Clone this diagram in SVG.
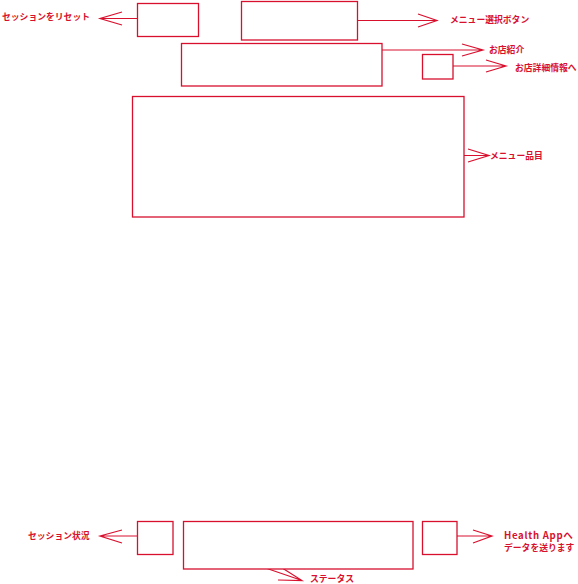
<svg xmlns="http://www.w3.org/2000/svg" width="578" height="584" viewBox="0 0 578 584">
<style>
.box{fill:#fff;stroke:#d8102e;stroke-width:1.3}
.ln{fill:none;stroke:#d8102e;stroke-width:1.2}
.lb{font-family:"Noto Sans CJK JP","Liberation Sans",sans-serif;font-weight:bold;font-size:8.8px;fill:#d8102e}
</style>
<rect width="578" height="584" fill="#fff"/>
<g id="connectors">
  <path class="ln" d="M137,18.5 H100 M122,12 L100,18.5 L122,25"/>
  <path class="ln" d="M357,20.5 H437 M418,14 L437,20.5 L418,27"/>
  <path class="ln" d="M382,50 H483 M462,44 L483,50 L462,56"/>
  <path class="ln" d="M453,66 H506 M486,60 L506,66 L486,72"/>
  <path class="ln" d="M464,155.5 H489 M468,149 L489,155.5 L468,162"/>
  <path class="ln" d="M137,536 H100 M122,530 L100,536 L122,543"/>
  <path class="ln" d="M267,568.5 L302,580.5 M283,568.5 L302,580.5 L278,580"/>
  <path class="ln" d="M457,536 H492 M473,530 L492,536 L473,543"/>
</g>
<g id="reset-session"><rect class="box" x="137.5" y="3.5" width="61" height="33"/><text class="lb" x="2" y="20">セッションをリセット</text></g>
<g id="menu-select"><rect class="box" x="241.5" y="1.5" width="116" height="38.5"/><text class="lb" x="450" y="22.5">メニュー選択ボタン</text></g>
<g id="shop-intro"><rect class="box" x="181.5" y="43.5" width="200.5" height="42.5"/><text class="lb" x="489" y="52.7">お店紹介</text></g>
<g id="shop-detail"><rect class="box" x="422.5" y="54.5" width="30.5" height="24.5"/><text class="lb" x="515" y="71">お店詳細情報へ</text></g>
<g id="menu-items"><rect class="box" x="132.5" y="96.5" width="331.5" height="120.5"/><text class="lb" x="490" y="159">メニュー品目</text></g>
<g id="session-status"><rect class="box" x="137.5" y="521.5" width="35.5" height="33"/><text class="lb" x="28" y="538.5">セッション状況</text></g>
<g id="status"><rect class="box" x="183.5" y="521.5" width="229.5" height="47.5"/><text class="lb" x="310" y="582">ステータス</text></g>
<g id="health-app"><rect class="box" x="422.5" y="521.5" width="34.5" height="33"/><text class="lb" x="504" y="538.5" style="font-size:9.6px;letter-spacing:0.7px">Health Appへ</text><text class="lb" x="504" y="550.5">データを送ります</text></g>
</svg>
